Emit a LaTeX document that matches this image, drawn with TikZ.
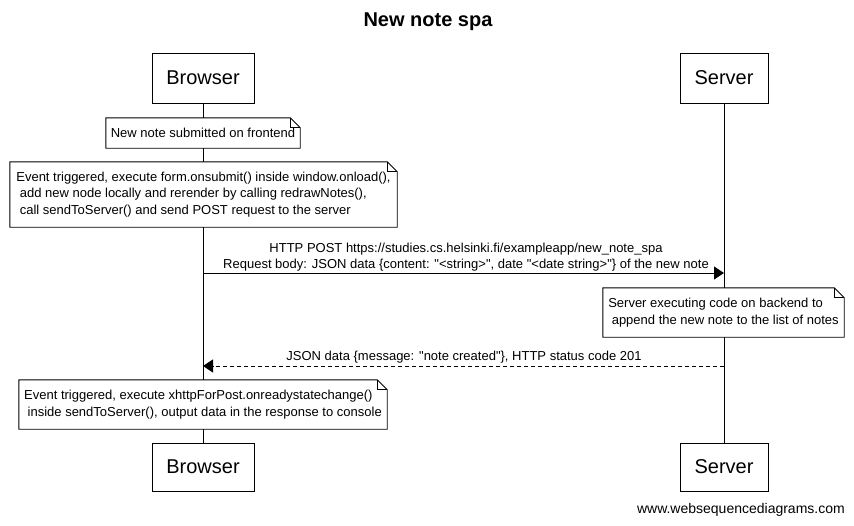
\documentclass[tikz,border=0pt]{standalone}
\usepackage{fontspec}
\setmainfont{Liberation Sans}
\usetikzlibrary{arrows.meta}
\tikzset{
  actorbox/.style={draw=black, line width=0.9pt, fill=white, minimum height=50pt, inner sep=0pt, font=\fontsize{20}{24}\selectfont},
  notebody/.style={fill=white, inner sep=0pt, align=left, font=\fontsize{13}{16.5}\selectfont},
  notelines/.style={draw=black, line width=0.9pt},
  lifeline/.style={draw=black, line width=0.9pt},
  msglabel/.style={align=center, inner sep=0pt, font=\fontsize{13}{16}\selectfont},
  callarrow/.style={draw=black, line width=0.9pt, -{Triangle[length=10pt,width=13pt]}},
  replyarrow/.style={draw=black, line width=0.9pt, dash pattern=on 4pt off 3pt, -{Triangle[length=10pt,width=13pt]}},
}
\newcommand{\drawnotefold}[1]{%
  \draw[notelines] (#1.north west) -- ([xshift=-10pt]#1.north east) -- ([yshift=-10pt]#1.north east) -- (#1.south east) -- (#1.south west) -- cycle;
  \draw[notelines] ([xshift=-10pt]#1.north east) -- ([xshift=-10pt,yshift=-10pt]#1.north east) -- ([yshift=-10pt]#1.north east);
}
\newcommand{\sq}{\XeTeXglyph\XeTeXcharglyph34\relax}
\begin{document}
\begin{tikzpicture}[x=1pt,y=-1pt]
\useasboundingbox (0,0) rectangle (854,525);
\node[font=\bfseries\fontsize{20}{24}\selectfont] (title) at (428,22) {New note spa};
% actors
\node[actorbox, minimum width=102pt] (bt) at (203,78) {Browser};
\node[actorbox, minimum width=88pt] (st) at (724,78) {Server};
\node[actorbox, minimum width=102pt, minimum height=48pt] (bb) at (203,467) {Browser};
\node[actorbox, minimum width=88pt, minimum height=48pt] (sb) at (724,467) {Server};
% lifelines
\draw[lifeline] (bt.south) -- (bb.north);
\draw[lifeline] (st.south) -- (sb.north);
% notes
\node[notebody, minimum width=194pt, minimum height=30pt] (n1) at (203,133) {New note submitted on frontend};
\drawnotefold{n1}
\node[notebody, minimum width=387pt, minimum height=65pt] (n2) at (203.5,194.5) {Event triggered, execute form.onsubmit() inside window.onload(),\\\hspace{3.5pt}add new node locally and rerender by calling redrawNotes(),\\\hspace{3.5pt}call sendToServer() and send POST request to the server};
\drawnotefold{n2}
% message 1
\coordinate (m1b) at (203,273);
\coordinate (m1s) at (724,273);
\draw[callarrow] (m1b) -- (m1s);
\node[msglabel] (l1) at (466,257) {HTTP POST https://studies.cs.helsinki.fi/exampleapp/new\_note\_spa\\Request body: JSON data \{content: \sq<string>\sq, date \sq<date string>\sq\} of the new note};
% note 3
\node[notebody, minimum width=241pt, minimum height=49pt] (n3) at (723.5,312.5) {Server executing code on backend to\\\hspace{3.5pt}append the new note to the list of notes};
\drawnotefold{n3}
% message 2
\coordinate (m2s) at (724,366);
\coordinate (m2b) at (203,366);
\draw[replyarrow] (m2s) -- (m2b);
\node[msglabel] (l2) at (464,357) {JSON data \{message: \sq note created\sq\}, HTTP status code 201};
% note 4
\node[notebody, minimum width=368pt, minimum height=49pt] (n4) at (203,404.5) {Event triggered, execute xhttpForPost.onreadystatechange()\\\hspace{3.5pt}inside sendToServer(), output data in the response to console};
\drawnotefold{n4}
% watermark
\node[font=\fontsize{14}{16}\selectfont, anchor=east, inner sep=0pt] (wm) at (845,510) {www.websequencediagrams.com};
\end{tikzpicture}
\end{document}
